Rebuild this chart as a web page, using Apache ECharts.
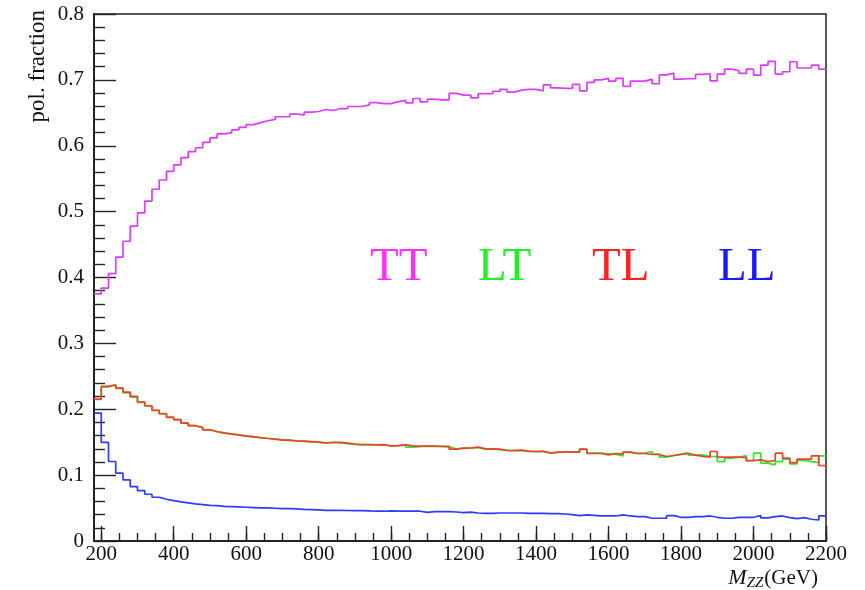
<!DOCTYPE html>
<html>
<head>
<meta charset="utf-8">
<script src="https://cdn.jsdelivr.net/npm/echarts@6/dist/echarts.min.js"></script>
<style>html,body{margin:0;padding:0;background:#fff;}#c{width:865px;height:590px;}</style>
</head>
<body>
<div id="c"></div>
<script>
// ---- data ----
const binLow = 180;      // GeV, lower edge of first bin
const binWidth = 20;     // GeV
const xMajorTicks = [200, 400, 600, 800, 1000, 1200, 1400, 1600, 1800, 2000, 2200];
const seriesNames = ['TT', 'LT', 'TL', 'LL'];

const TT = [
  0.375, 0.384, 0.406, 0.431, 0.455, 0.478, 0.498, 0.516, 0.534, 0.548,
  0.561, 0.571, 0.582, 0.591, 0.597, 0.605, 0.612, 0.618, 0.620, 0.624,
  0.628, 0.632, 0.635, 0.638, 0.640, 0.644, 0.644, 0.648, 0.647, 0.651,
  0.652, 0.655,
  0.6535, 0.6565, 0.6565, 0.6596, 0.6596, 0.6621, 0.6656, 0.664, 0.664, 0.667,
  0.669, 0.665, 0.6717, 0.6666, 0.6707, 0.6697, 0.6697, 0.6794, 0.6768, 0.6768,
  0.6727, 0.679, 0.679, 0.6824, 0.6855, 0.6814, 0.6844, 0.6855, 0.6855, 0.6834,
  0.6925, 0.688, 0.687, 0.687, 0.6931, 0.6834,
  0.6961, 0.7001, 0.7022, 0.6981, 0.7022, 0.690, 0.6981, 0.6981, 0.7011, 0.6941,
  0.7077, 0.7103, 0.7011, 0.7017, 0.7017, 0.7083, 0.7093, 0.6986, 0.7088, 0.7163,
  0.7138, 0.7098, 0.7163, 0.7072, 0.7224, 0.728, 0.7088, 0.7123, 0.7275, 0.718,
  0.718, 0.7224, 0.7163
];

const LT = [
  0.2150, 0.2340, 0.2368, 0.2318, 0.2250, 0.2185, 0.2105, 0.2050, 0.1985, 0.1935,
  0.1880, 0.1843, 0.1792, 0.1752, 0.1722, 0.1690, 0.1662, 0.1642, 0.1628, 0.1612,
  0.1597, 0.1585, 0.1570, 0.1560, 0.1548, 0.1535, 0.1528, 0.1518, 0.1512, 0.1505,
  0.1497, 0.1488,
  0.1497, 0.1490, 0.1478, 0.1466, 0.1460, 0.1462, 0.1458, 0.1460, 0.1442, 0.1446,
  0.1455, 0.1424, 0.1432, 0.1440, 0.1436, 0.1434, 0.1430, 0.1400, 0.1405, 0.1410,
  0.1420, 0.1395, 0.1394, 0.1385, 0.1375, 0.1372, 0.1370, 0.1362, 0.1358, 0.1362,
  0.1336, 0.1345, 0.1350, 0.1352,
  0.1350, 0.1390, 0.1333, 0.1333, 0.1323, 0.1313, 0.1293, 0.1344, 0.1328, 0.1333,
  0.1359, 0.1318, 0.1272, 0.1298, 0.1318, 0.1338, 0.1303, 0.1308, 0.1283, 0.1283,
  0.1206, 0.1257, 0.1272, 0.1293, 0.1216, 0.1333, 0.1181, 0.1156, 0.1206, 0.1242,
  0.1171, 0.1222, 0.1206, 0.1191, 0.1293
];

const TL = [
  0.2155, 0.2347, 0.2372, 0.2322, 0.2261, 0.2195, 0.2109, 0.2053, 0.1983, 0.1932,
  0.1876, 0.1841, 0.1790, 0.1750, 0.1720, 0.1688, 0.1658, 0.1638, 0.1622, 0.1607,
  0.1592, 0.1582, 0.1567, 0.1556, 0.1546, 0.1531, 0.1531, 0.1521, 0.1516, 0.1510,
  0.1500, 0.1490,
  0.1495, 0.1496, 0.1485, 0.1470, 0.1465, 0.1465, 0.1460, 0.1462, 0.1445, 0.1448,
  0.1462, 0.1440, 0.1440, 0.1440, 0.1440, 0.1438, 0.1435, 0.1394, 0.1409, 0.1412,
  0.1424, 0.1399, 0.1399, 0.1395, 0.1374, 0.1376, 0.1380, 0.1365, 0.1359, 0.1360,
  0.1333, 0.1348, 0.1354, 0.1352,
  0.1350, 0.1394, 0.1328, 0.1328, 0.1308, 0.1328, 0.1318, 0.1349, 0.1328, 0.1328,
  0.1313, 0.1313, 0.1283, 0.1298, 0.1313, 0.1328, 0.1303, 0.1283, 0.1272, 0.1359,
  0.1272, 0.1272, 0.1272, 0.1267, 0.1222, 0.1232, 0.1206, 0.1222, 0.1333, 0.1257,
  0.1191, 0.1242, 0.1242, 0.1293, 0.1146
];

const LL = [
  0.1942, 0.1496, 0.1207, 0.1029, 0.0928, 0.0826, 0.0766, 0.0710, 0.0664, 0.0634,
  0.0614, 0.0593, 0.0578, 0.0563, 0.0553, 0.0542, 0.0537, 0.0527, 0.0522, 0.0517,
  0.0512, 0.0507, 0.0502, 0.0502, 0.0497, 0.0492, 0.0492, 0.0487, 0.0481, 0.0476,
  0.0471, 0.0466,
  0.0465, 0.0465, 0.0463, 0.0462, 0.0462, 0.0458, 0.0452, 0.0452, 0.0458, 0.0455,
  0.0455, 0.0455, 0.0452, 0.0435, 0.0445, 0.0445, 0.0446, 0.0440, 0.0432, 0.0438,
  0.0425, 0.0420, 0.0420, 0.0425, 0.0425, 0.0425, 0.0425, 0.0418, 0.0418, 0.0418,
  0.0416, 0.0416, 0.0410, 0.0400,
  0.0385, 0.0396, 0.0390, 0.0380, 0.0380, 0.0380, 0.0396, 0.0380, 0.0370, 0.0370,
  0.0345, 0.0345, 0.0345, 0.0385, 0.0360, 0.0360, 0.0370, 0.0370, 0.0380, 0.0360,
  0.0345, 0.0345, 0.0360, 0.0360, 0.0360, 0.0385, 0.0350, 0.0370, 0.0380, 0.0355,
  0.0340, 0.0355, 0.0330, 0.0319, 0.0380
];

// ---- build ----
const serif = '"Liberation Serif", "DejaVu Serif", serif';
const lineColors = { TT: '#dc3cff', LT: '#2ee82e', TL: '#f0402a', LL: '#2a3cff' };
const textColors = { TT: '#ff30ff', LT: '#22f022', TL: '#ff2020', LL: '#1a1aff' };
const valuesByName = { TT, LT, TL, LL };

function histPoints(vals) {
  const pts = vals.map((v, i) => [binLow + binWidth * i, v]);
  pts.push([binLow + binWidth * vals.length, vals[vals.length - 1]]);
  return pts;
}
const xMax = binLow + binWidth * TT.length;
const xMinorTicks = [];
for (let t = 200; t <= xMax; t += 50) xMinorTicks.push(t);

const chart = echarts.init(document.getElementById('c'), null, { renderer: 'canvas' });

const series = seriesNames.map(n => ({
  name: n,
  type: 'line',
  step: 'end',
  data: histPoints(valuesByName[n]),
  showSymbol: false,
  symbol: 'none',
  lineStyle: { color: lineColors[n], width: 1.7 },
  itemStyle: { color: lineColors[n] },
  xAxisIndex: 0,
  yAxisIndex: 0,
  z: 3
}));

const legendX = { TT: 370, LT: 478, TL: 592, LL: 718 };

chart.setOption({
  animation: false,
  backgroundColor: '#fff',
  grid: { left: 94, top: 14, width: 732, height: 527, show: true, borderColor: '#222', borderWidth: 1.5, backgroundColor: 'transparent' },
  xAxis: [
    {
      type: 'value', min: binLow, max: xMax, position: 'bottom',
      axisLine: { show: true, onZero: false, lineStyle: { color: '#222', width: 2 } },
      axisTick: { show: true, inside: true, length: 15, customValues: xMajorTicks, lineStyle: { color: '#222', width: 1.4 } },
      axisLabel: { show: true, customValues: xMajorTicks, fontFamily: serif, fontSize: 21, color: '#111', margin: 3,
        formatter: v => String(v) },
      splitLine: { show: false }
    },
    {
      type: 'value', min: binLow, max: xMax, position: 'bottom', gridIndex: 0,
      axisLine: { show: false },
      axisTick: { show: true, inside: true, length: 8, customValues: xMinorTicks, lineStyle: { color: '#222', width: 1.4 } },
      axisLabel: { show: false },
      splitLine: { show: false }
    }
  ],
  yAxis: {
    type: 'value', min: 0, max: 0.8, interval: 0.1,
    axisLine: { show: true, onZero: false, lineStyle: { color: '#222', width: 2 } },
    axisTick: { show: true, inside: true, length: 22, lineStyle: { color: '#222', width: 1.4 } },
    minorTick: { show: true, splitNumber: 5, length: 11, lineStyle: { color: '#222', width: 1.4 } },
    axisLabel: { fontFamily: serif, fontSize: 21, color: '#111', margin: 10,
      formatter: v => (v === 0 ? '0' : v.toFixed(1)) },
    splitLine: { show: false }
  },
  series,
  graphic: [
    {
      type: 'text', x: 38, y: 10, rotation: Math.PI / 2,
      style: { text: 'pol. fraction', fill: '#111', font: '23px ' + serif, align: 'right', verticalAlign: 'middle' }
    },
    {
      type: 'text', x: 818, y: 578,
      style: {
        text: '{m|M}{s|ZZ}{g|(GeV)}', align: 'right', verticalAlign: 'middle', fill: '#111',
        rich: {
          m: { fontFamily: serif, fontStyle: 'italic', fontSize: 22, lineHeight: 26, fill: '#111' },
          s: { fontFamily: serif, fontStyle: 'italic', fontSize: 15, lineHeight: 26, padding: [10, 1, 0, 0], fill: '#111' },
          g: { fontFamily: serif, fontSize: 21, lineHeight: 26, fill: '#111' }
        }
      }
    }
  ].concat(seriesNames.map(n => ({
    type: 'text', x: legendX[n], y: 268,
    style: { text: n, fill: textColors[n], font: '47px ' + serif, align: 'left', verticalAlign: 'middle' }
  })))
});
</script>
</body>
</html>
